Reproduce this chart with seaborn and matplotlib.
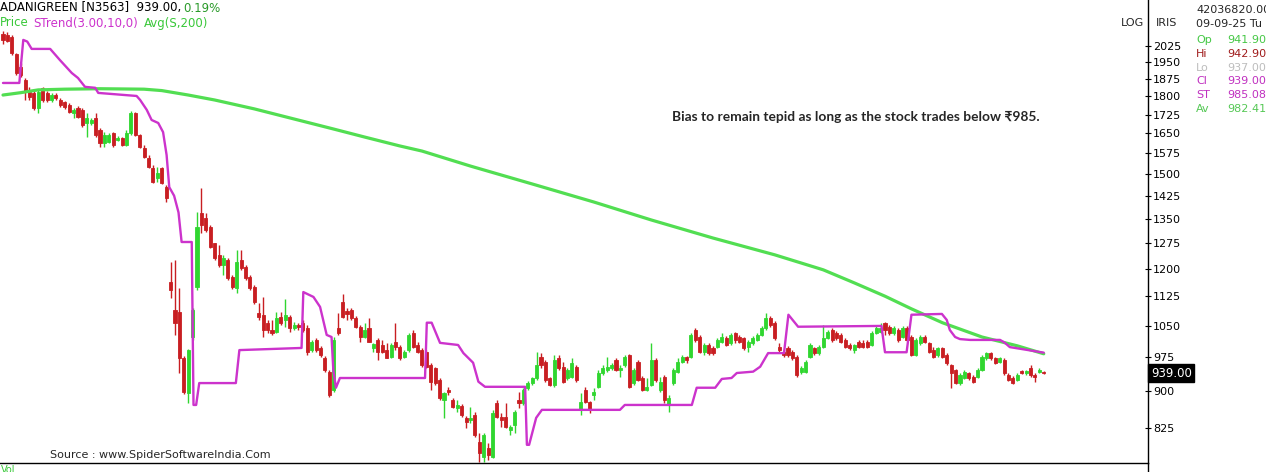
import numpy as np
import pandas as pd
import matplotlib
matplotlib.use("Agg")
import matplotlib.pyplot as plt
import seaborn as sns
from matplotlib.ticker import FixedLocator, FuncFormatter, NullLocator

# daily candles, ADANIGREEN
opens = [
    2085, 2080, 2071, 1989, 1929, 1871, 1819, 1815, 1752, 1837,
    1815, 1785, 1807, 1785, 1777, 1765, 1732, 1752, 1744, 1691,
    1691, 1711, 1663, 1614, 1617, 1652, 1625, 1633, 1606, 1652,
    1732, 1644, 1595, 1557, 1521, 1486, 1521, 1454, 1164, 1089,
    1084, 973, 896, 1022, 1149, 1368, 1352, 1324, 1275, 1240,
    1211, 1225, 1178, 1146, 1225, 1205, 1178, 1149, 1082, 1077,
    1057, 1039, 1034, 1072, 1064, 1072, 1044, 1052, 1057, 1044,
    991, 1015, 996, 973, 942, 902, 1044, 1110, 1087, 1089,
    1069, 1047, 1022, 1044, 996, 1015, 1003, 991, 975, 1010,
    998, 975, 991, 1032, 1003, 991, 986, 957, 950, 924,
    881, 902, 881, 865, 869, 845, 841, 851, 798, 770,
    787, 770, 875, 847, 847, 821, 831, 881, 875, 906,
    917, 928, 975, 964, 928, 913, 973, 953, 928, 931,
    953, 861, 902, 877, 892, 909, 939, 946, 950, 968,
    946, 957, 980, 917, 964, 928, 902, 913, 968, 902,
    931, 871, 917, 942, 964, 975, 975, 1039, 1022, 986,
    1003, 996, 998, 1010, 1020, 1008, 1032, 1022, 1020, 998,
    1008, 1015, 1027, 1044, 1069, 1057, 998, 986, 996, 986,
    975, 942, 942, 975, 996, 984, 998, 1020, 1039, 1032,
    1027, 1015, 1003, 991, 1010, 1008, 1010, 1003, 1032, 1034,
    1057, 1047, 1032, 1039, 1022, 1044, 1022, 980, 1008, 1022,
    1008, 991, 980, 996, 980, 957, 946, 917, 928, 939,
    931, 931, 946, 973, 984, 973, 964, 968, 935, 928,
    924, 944, 939, 950, 935, 942, 941.9,
]
highs = [
    2100, 2095, 2080, 1994, 1947, 1880, 1841, 1828, 1828, 1841,
    1824, 1815, 1815, 1794, 1781, 1773, 1752, 1760, 1752, 1732,
    1711, 1732, 1671, 1655, 1652, 1655, 1640, 1636, 1663, 1740,
    1736, 1648, 1606, 1568, 1532, 1525, 1525, 1462, 1219, 1225,
    1146, 977, 993, 1094, 1372, 1451, 1368, 1330, 1275, 1269,
    1240, 1231, 1183, 1254, 1254, 1211, 1183, 1155, 1107, 1123,
    1064, 1064, 1084, 1084, 1118, 1077, 1059, 1057, 1064, 1052,
    1015, 1020, 1001, 977, 946, 1022, 1082, 1131, 1094, 1094,
    1074, 1052, 1057, 1069, 1008, 1020, 1015, 1008, 1008, 1057,
    1003, 991, 1032, 1039, 1010, 996, 991, 962, 953, 928,
    898, 909, 885, 881, 873, 849, 867, 857, 815, 815,
    796, 861, 881, 855, 875, 831, 861, 898, 907, 922,
    931, 986, 984, 968, 931, 980, 980, 964, 950, 973,
    957, 896, 909, 879, 907, 946, 957, 975, 962, 973,
    957, 980, 982, 950, 968, 933, 928, 1008, 973, 931,
    935, 892, 950, 973, 980, 977, 1032, 1044, 1027, 1008,
    1008, 1001, 1020, 1032, 1025, 1032, 1034, 1027, 1022, 1015,
    1025, 1032, 1049, 1082, 1074, 1062, 1008, 991, 1001, 991,
    980, 955, 968, 1008, 998, 1003, 1052, 1039, 1044, 1037,
    1032, 1020, 1008, 1006, 1015, 1015, 1015, 1037, 1049, 1057,
    1059, 1052, 1049, 1044, 1049, 1049, 1027, 1020, 1027, 1027,
    1010, 998, 998, 998, 984, 959, 948, 939, 946, 942,
    935, 950, 980, 986, 986, 975, 975, 973, 939, 933,
    939, 946, 946, 957, 939, 950, 942.9,
]
lows = [
    2037, 2046, 1985, 1893, 1884, 1785, 1785, 1744, 1732, 1777,
    1777, 1777, 1785, 1756, 1748, 1732, 1711, 1711, 1675, 1636,
    1683, 1636, 1599, 1599, 1614, 1599, 1621, 1603, 1603, 1644,
    1640, 1595, 1557, 1521, 1469, 1472, 1465, 1404, 1120, 1027,
    939, 894, 875, 1015, 1141, 1306, 1309, 1260, 1225, 1205,
    1183, 1169, 1144, 1133, 1197, 1169, 1141, 1105, 1064, 1022,
    1032, 1027, 1032, 1052, 1047, 1034, 1039, 1039, 1034, 980,
    986, 986, 975, 942, 887, 898, 1027, 1069, 1064, 1064,
    1044, 1010, 1020, 1010, 986, 968, 984, 973, 973, 991,
    968, 973, 986, 996, 984, 953, 950, 902, 913, 881,
    845, 892, 865, 857, 847, 825, 835, 808, 761, 761,
    765, 768, 845, 827, 825, 812, 815, 865, 871, 902,
    913, 924, 950, 920, 911, 909, 946, 917, 924, 928,
    920, 851, 875, 855, 881, 907, 935, 942, 946, 944,
    931, 953, 907, 913, 922, 900, 900, 911, 920, 898,
    875, 857, 913, 939, 962, 962, 973, 1010, 984, 980,
    980, 980, 996, 1008, 1001, 1003, 1008, 1008, 991, 986,
    1003, 1013, 1025, 1039, 1047, 1015, 986, 975, 975, 968,
    931, 937, 939, 973, 980, 980, 996, 1017, 1010, 1015,
    1008, 996, 991, 984, 996, 996, 996, 1001, 1029, 1032,
    1027, 1027, 1027, 1010, 1020, 1013, 977, 977, 1003, 1008,
    984, 973, 975, 973, 957, 907, 915, 913, 926, 924,
    917, 928, 944, 968, 968, 959, 962, 935, 922, 915,
    922, 937, 935, 931, 920, 939, 937,
]
closes = [
    2056, 2050, 1994, 1902, 1893, 1819, 1798, 1752, 1819, 1785,
    1785, 1807, 1794, 1765, 1756, 1736, 1744, 1715, 1683, 1711,
    1703, 1644, 1614, 1644, 1644, 1606, 1633, 1606, 1652, 1732,
    1644, 1599, 1561, 1525, 1472, 1504, 1469, 1418, 1141, 1057,
    973, 898, 991, 1089, 1324, 1330, 1315, 1263, 1231, 1211,
    1231, 1175, 1149, 1219, 1203, 1175, 1146, 1110, 1072, 1039,
    1039, 1032, 1069, 1057, 1077, 1044, 1052, 1047, 1039, 986,
    1010, 991, 980, 946, 892, 1015, 1032, 1072, 1079, 1069,
    1047, 1022, 1039, 1010, 1006, 986, 986, 973, 1003, 998,
    973, 986, 1027, 998, 986, 957, 953, 920, 917, 885,
    896, 898, 867, 871, 851, 837, 845, 812, 778, 812,
    774, 855, 847, 841, 827, 827, 857, 875, 902, 917,
    928, 957, 957, 924, 913, 968, 950, 920, 946, 962,
    924, 877, 877, 861, 898, 939, 950, 953, 957, 946,
    950, 975, 909, 946, 924, 902, 909, 968, 924, 920,
    881, 885, 946, 964, 975, 968, 1027, 1015, 986, 1003,
    984, 984, 1015, 1022, 1003, 1027, 1015, 1010, 996, 1010,
    1020, 1027, 1044, 1069, 1052, 1020, 991, 980, 980, 973,
    935, 950, 964, 1003, 984, 998, 1020, 1034, 1015, 1020,
    1010, 998, 996, 1003, 998, 998, 998, 1032, 1044, 1044,
    1039, 1032, 1044, 1015, 1044, 1015, 980, 1015, 1022, 1010,
    986, 975, 996, 975, 962, 939, 917, 935, 942, 928,
    920, 946, 975, 984, 973, 962, 973, 939, 924, 917,
    935, 939, 944, 935, 931, 946, 939,
]

# SuperTrend(3,10) path: bar index -> level
st_idx = [0, 3.7, 4.6, 5.5, 6.5, 10.7, 12.9, 15.6, 17.0, 18.6, 20.9, 21.6,
          30.3, 31.1, 32.6, 33.7, 35.2, 36.3, 37.1, 37.7, 38.8, 39.8, 40.5,
          42.8, 43.2, 43.8, 44.5, 52.8, 53.6, 67.7, 68.1, 70.4, 71.9, 73.4,
          74.5, 74.9, 75.5, 76.4, 95.7, 96.1, 97.2, 99.1, 103.2, 104.4, 106.6,
          107.8, 109.3, 118.4, 118.8, 119.3, 120.9, 122.2, 139.9, 141.0,
          156.2, 157.3, 161.5, 163.0, 165.2, 166.4, 170.1, 171.7, 173.5,
          177.1, 178.1, 180.3, 199.2, 200.0, 204.9, 206.0, 212.9, 214.0,
          214.7, 215.9, 217.0, 219.3, 226.1, 227.2, 228.3, 229.5, 236]
st_val = [1858, 1858, 2056, 2048, 2013, 2013, 1961, 1902, 1880, 1841, 1837, 1815,
          1802, 1785, 1744, 1703, 1691, 1655, 1568, 1454, 1425, 1370, 1278,
          1278, 871, 871, 917, 917, 991, 996, 1136, 1123, 1097, 1027,
          1022, 946, 907, 928, 928, 1057, 1057, 1008, 1003, 984, 962,
          920, 909, 909, 793, 793, 845, 861, 861, 871,
          871, 907, 907, 926, 928, 939, 942, 953, 984,
          984, 1077, 1047, 1049, 986, 986, 1077, 1079, 1064,
          1039, 1022, 1017, 1015, 1015, 1008, 998, 996, 985.08]

# 200-day simple average
ma_idx = [0, 4, 8, 14, 22, 32, 36, 42, 48, 57, 66, 75, 82, 90, 95, 106,
          120, 134, 147, 161, 175, 186, 193, 200, 206, 213, 222, 230, 236]
ma_val = [1806, 1816, 1828, 1831, 1833, 1831, 1825, 1806, 1785, 1748, 1707,
          1667, 1636, 1602, 1583, 1528, 1465, 1404, 1346, 1290, 1240, 1197,
          1161, 1125, 1092, 1057, 1022, 1001, 982.41]

yticks = [825, 900, 975, 1050, 1125, 1200, 1275, 1350, 1425, 1500,
          1575, 1650, 1725, 1800, 1875, 1950, 2025]

panel_labels = ["Op", "Hi", "Lo", "Cl", "ST", "Av"]
panel_values = ["941.90", "942.90", "937.00", "939.00", "985.08", "982.41"]

UP = "#30d630"
DOWN = "#c81e22"
ST_COL = "#cc33cc"
MA_COL = "#52de52"

sns.set_style("white")
plt.rcParams["font.family"] = ["DejaVu Sans"]

W, H = 1266, 472
fig = plt.figure(figsize=(W / 100, H / 100), dpi=100)
ax = fig.add_axes([0, 9 / H, 1148 / W, 463 / H])

df = pd.DataFrame({"o": opens, "h": highs, "l": lows, "c": closes})
df["i"] = np.arange(len(df))
colors = np.where(df["c"] >= df["o"], UP, DOWN)

ax.vlines(df["i"], df["l"], df["h"], colors=colors, lw=1, zorder=2)
ax.bar(df["i"], (df["c"] - df["o"]).abs(), bottom=np.minimum(df["o"], df["c"]),
       width=0.7, color=colors, edgecolor=colors, linewidth=0.6, zorder=3)

ma = pd.DataFrame({"i": ma_idx, "v": ma_val})
sns.lineplot(data=ma, x="i", y="v", ax=ax, color=MA_COL, lw=2.3,
             estimator=None, sort=False, zorder=4)
st = pd.DataFrame({"i": st_idx, "v": st_val})
sns.lineplot(data=st, x="i", y="v", ax=ax, color=ST_COL, lw=1.7,
             estimator=None, sort=False, zorder=5)

ax.set_yscale("log")
ax.set_ylim(759.8, 2258.5)
ax.set_xlim(-0.68, 259.64)
ax.set_xticks([])
ax.set_xlabel("")
ax.set_ylabel("")
ax.yaxis.set_major_locator(FixedLocator(yticks))
ax.yaxis.set_major_formatter(FuncFormatter(lambda v, p: f"{v:.0f}"))
ax.yaxis.set_minor_locator(NullLocator())
ax.yaxis.tick_right()
ax.tick_params(axis="y", direction="inout", length=5, width=0.8, pad=1,
               labelsize=8, colors="black")
for s in ["top", "left"]:
    ax.spines[s].set_visible(False)
for s in ["right", "bottom"]:
    ax.spines[s].set_color("black")
    ax.spines[s].set_linewidth(1)

# last price tag
ax.annotate("939.00", xy=(1.0, closes[-1]), xycoords=("axes fraction", "data"),
            xytext=(2, 0), textcoords="offset points", ha="left", va="center",
            fontsize=8.5, color="white",
            bbox=dict(boxstyle="square,pad=0.22", fc="black", ec="black"))

def px(x, y, s, **kw):
    fig.text(x / W, 1 - y / H, s, va="center", **kw)

px(0, 8, "ADANIGREEN [N3563]  939.00,", fontsize=8.5, color="black")
px(183, 8, "0.19%", fontsize=8.5, color="#2a9a2a")
px(0, 23, "Price", fontsize=8.5, color="#39c839")
px(33, 23, "STrend(3.00,10,0)", fontsize=8.5, color=ST_COL)
px(144, 23, "Avg(S,200)", fontsize=8.5, color="#39c839")

px(1144, 23, "LOG", fontsize=8, ha="right")
px(1156, 23, "IRIS", fontsize=8)
px(1196, 10, "42036820.00", fontsize=8)
px(1196, 24, "09-09-25 Tu", fontsize=8)
panel_cols = ["#45c845", "#a01c1c", "#bdbdbd", "#c030c0", "#c030c0", "#55c855"]
for k, (lab, val, col) in enumerate(zip(panel_labels, panel_values, panel_cols)):
    yy = 40 + k * 13.8
    px(1196, yy, lab, fontsize=8, color=col)
    px(1227, yy, val, fontsize=8, color=col)

px(672, 117, "Bias to remain tepid as long as the stock trades below \u20b9985.",
   fontsize=9.9, fontweight="bold", family=["Lato", "DejaVu Sans"])
px(50, 455, "Source : www.SpiderSoftwareIndia.Com", fontsize=8)
px(1, 470, "Vol", fontsize=7, color="#39c839")

# axis line continues into the volume pane below
fig.add_artist(plt.Line2D([1147.5 / W, 1147.5 / W], [0, 9 / H], color="black", lw=1))

fig.savefig("out.png", dpi=100, facecolor="white")
